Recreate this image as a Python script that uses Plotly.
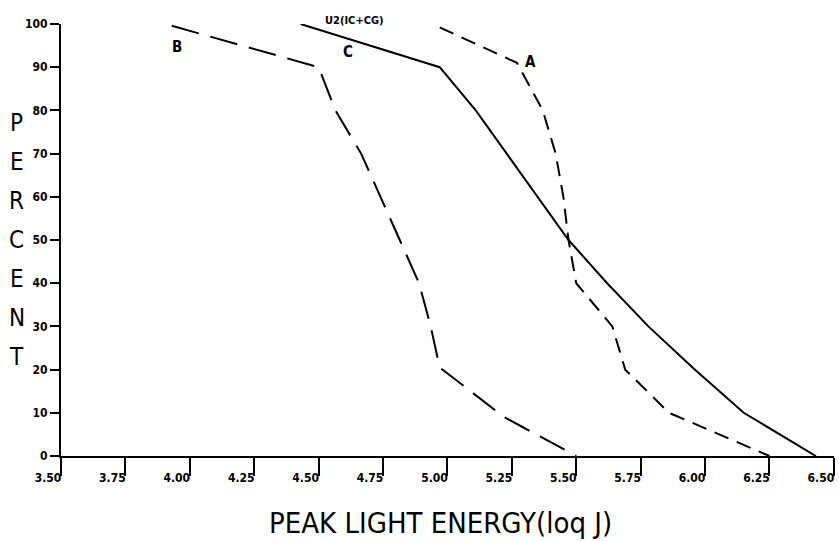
import plotly.graph_objects as go

# Peak light energy (log J) versus cumulative percent for three flash groups
a_energy = [4.97, 5.27, 5.37, 5.42, 5.45, 5.47, 5.50, 5.64, 5.69, 5.86, 6.25]
a_percent = [99.2, 91, 80, 70, 60, 50, 40, 30, 20, 10, 0]

b_energy = [3.93, 4.50, 4.565, 4.665, 4.74, 4.815, 4.89, 4.935, 4.97, 5.22, 5.50]
b_percent = [99.6, 90, 80, 70, 60, 50, 40, 30, 20.5, 9, 0]

u2_energy = [4.43, 4.97, 5.11, 5.35, 5.47, 5.62, 5.78, 5.96, 6.15, 6.43]
u2_percent = [100, 90, 80, 60, 50, 40, 30, 20, 10, 0]

x_ticks = [3.50, 3.75, 4.00, 4.25, 4.50, 4.75, 5.00, 5.25, 5.50, 5.75, 6.00, 6.25, 6.50]
y_ticks = [0, 10, 20, 30, 40, 50, 60, 70, 80, 90, 100]

curve_labels = [("B", 3.951, 94.7), ("C", 4.615, 93.5), ("A", 5.323, 91.2)]
y_title_letters = list("PERCENT")

TICK_FONT = dict(family="Liberation Sans Narrow, DejaVu Sans Condensed, Arial Narrow, sans-serif",
                 size=12, color="black", weight="bold")
TITLE_FONT = "DejaVu Sans Condensed, Liberation Sans Narrow, DejaVu Sans, sans-serif"

fig = go.Figure()
fig.add_trace(go.Scatter(x=u2_energy, y=u2_percent, mode="lines",
                         line=dict(color="black", width=2), name="U2"))
fig.add_trace(go.Scatter(x=a_energy, y=a_percent, mode="lines",
                         line=dict(color="black", width=2, dash="15px,9px"), name="A"))
fig.add_trace(go.Scatter(x=b_energy, y=b_percent, mode="lines",
                         line=dict(color="black", width=2, dash="28px,12px"), name="B"))

annotations = []
for text, xv, yv in curve_labels:
    annotations.append(dict(x=xv, y=yv, xref="x", yref="y", text=text, showarrow=False,
                            font=dict(family=TICK_FONT["family"], size=15, color="black",
                                      weight="bold")))
annotations.append(dict(x=4.64, y=1.009, xref="x", yref="paper", text="U2(IC+CG)",
                        showarrow=False, yanchor="middle",
                        font=dict(family=TICK_FONT["family"], size=11, color="black",
                                  weight="bold")))
# vertically stacked y-axis title
for i, ch in enumerate(y_title_letters):
    annotations.append(dict(x=-0.057, y=77.1 - 9.02 * i, xref="paper", yref="y", text=ch,
                            showarrow=False, xanchor="center", yanchor="middle",
                            font=dict(family=TITLE_FONT, size=24, color="black")))
annotations.append(dict(x=0.491, y=-0.154, xref="paper", yref="paper",
                        text="PEAK LIGHT ENERGY(loq J)", showarrow=False,
                        xanchor="center", yanchor="middle",
                        font=dict(family=TITLE_FONT, size=29, color="black")))

fig.update_layout(
    width=839, height=542,
    margin=dict(l=61, r=5, t=24, b=86),
    paper_bgcolor="white", plot_bgcolor="white",
    showlegend=False,
    annotations=annotations,
    xaxis=dict(range=[3.5, 6.5005], tickvals=x_ticks, tickformat=".2f",
               ticks="outside", ticklen=18, tickwidth=2, tickcolor="black",
               ticklabelshift=-13, ticklabelstandoff=-8,
               showline=True, linewidth=2, linecolor="black",
               showgrid=False, zeroline=False, tickfont=TICK_FONT),
    yaxis=dict(range=[0, 100], tickvals=y_ticks,
               ticks="outside", ticklen=9, tickwidth=2, tickcolor="black",
               showline=True, linewidth=2, linecolor="black",
               showgrid=False, zeroline=False, tickfont=TICK_FONT),
)

fig.write_html("out.html")
